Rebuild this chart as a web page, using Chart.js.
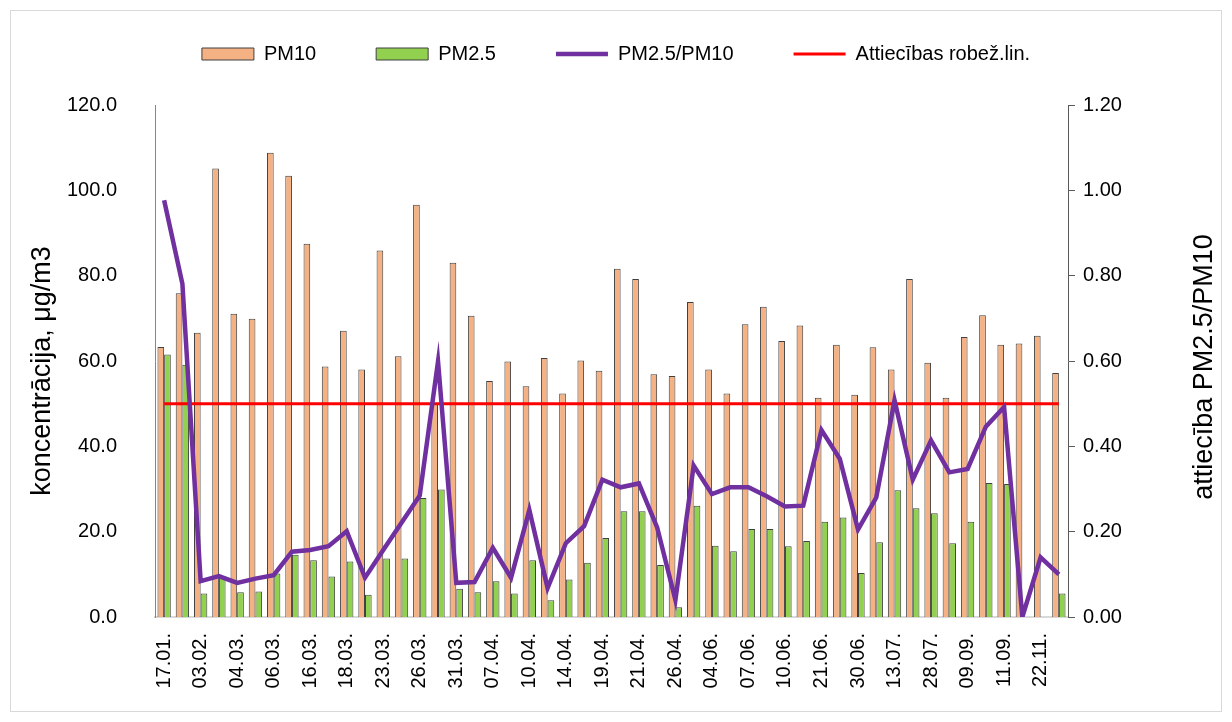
<!DOCTYPE html>
<html lang="lv">
<head>
    <meta charset="UTF-8">
    <title>PM10 un PM2.5 koncentrācijas</title>
    <script src="https://cdn.jsdelivr.net/npm/chart.js"></script>
    <style>
        body { margin: 0; background: #fff; }
        #wrap { position: absolute; left: 10px; top: 10px; width: 1210px; height: 700px; border: 1px solid #d9d9d9; }
    </style>
</head>
<body>
    <div id="wrap"><canvas id="pmChart" width="1210" height="700"></canvas></div>

    <script>
        // only every second date is printed on the axis
        const dates = ['17.01.', '', '03.02.', '', '04.03.', '', '06.03.', '', '16.03.', '',
                       '18.03.', '', '23.03.', '', '26.03.', '', '31.03.', '', '07.04.', '',
                       '10.04.', '', '14.04.', '', '19.04.', '', '21.04.', '', '26.04.', '',
                       '04.06.', '', '07.06.', '', '10.06.', '', '21.06.', '', '30.06.', '',
                       '13.07.', '', '28.07.', '', '09.09.', '', '11.09.', '', '22.11.', ''];

        const pm10 = [63.3, 75.9, 66.6, 105.1, 71.1, 69.9, 108.8, 103.4, 87.5, 58.7,
                      67.1, 58.0, 85.9, 61.1, 96.6, 50.0, 83.0, 70.6, 55.3, 59.9,
                      54.1, 60.7, 52.4, 60.1, 57.7, 81.6, 79.2, 56.9, 56.5, 73.8,
                      58.0, 52.4, 68.6, 72.7, 64.7, 68.3, 51.4, 63.8, 52.1, 63.2,
                      58.0, 79.2, 59.6, 51.4, 65.6, 70.7, 63.8, 64.1, 65.9, 57.2];

        const pm25 = [61.5, 59.1, 5.5, 9.6, 5.8, 6.0, 10.2, 14.6, 13.3, 9.5,
                      13.0, 5.2, 13.7, 13.7, 27.9, 29.9, 6.6, 5.8, 8.4, 5.5,
                      13.3, 3.9, 8.8, 12.7, 18.5, 24.8, 24.8, 12.2, 2.3, 26.1,
                      16.7, 15.4, 20.6, 20.6, 16.6, 17.8, 22.3, 23.3, 10.3, 17.5,
                      29.7, 25.5, 24.3, 17.3, 22.3, 31.4, 31.2, 0, null, 5.5];

        const ratio = [0.977, 0.781, 0.084, 0.096, 0.080, 0.090, 0.098, 0.153, 0.157, 0.166,
                       0.201, 0.092, 0.157, 0.221, 0.285, 0.599, 0.080, 0.082, 0.162, 0.092,
                       0.251, 0.068, 0.173, 0.213, 0.322, 0.304, 0.313, 0.210, 0.040, 0.355,
                       0.288, 0.304, 0.304, 0.283, 0.259, 0.261, 0.438, 0.371, 0.205, 0.280,
                       0.508, 0.322, 0.414, 0.339, 0.347, 0.446, 0.492, 0.000, 0.140, 0.100];

        const limitLine = [0.5, 0.5, 0.5, 0.5, 0.5, 0.5, 0.5, 0.5, 0.5, 0.5,
                           0.5, 0.5, 0.5, 0.5, 0.5, 0.5, 0.5, 0.5, 0.5, 0.5,
                           0.5, 0.5, 0.5, 0.5, 0.5, 0.5, 0.5, 0.5, 0.5, 0.5,
                           0.5, 0.5, 0.5, 0.5, 0.5, 0.5, 0.5, 0.5, 0.5, 0.5,
                           0.5, 0.5, 0.5, 0.5, 0.5, 0.5, 0.5, 0.5, 0.5, 0.5];

        const FONT = "'Liberation Sans', Arial, sans-serif";
        Chart.defaults.font.family = FONT;
        Chart.defaults.font.size = 20;
        Chart.defaults.color = '#000';

        // push the plot area down below the legend
        const legendGap = {
            id: 'legendGap',
            beforeInit(chart) {
                const fit = chart.legend.fit;
                chart.legend.fit = function () {
                    fit.bind(chart.legend)();
                    this.height += 31;
                };
            }
        };

        // both axis titles read bottom-to-top
        const axisTitles = {
            id: 'axisTitles',
            afterDraw(chart) {
                const { ctx } = chart;
                const put = (text, x, y) => {
                    ctx.save();
                    ctx.translate(x, y);
                    ctx.rotate(-Math.PI / 2);
                    ctx.font = '27px ' + FONT;
                    ctx.fillStyle = '#000';
                    ctx.textAlign = 'center';
                    ctx.textBaseline = 'middle';
                    ctx.fillText(text, 0, 0);
                    ctx.restore();
                };
                put('koncentrācija, μg/m3', 32, 360);
                put('attiecība PM2.5/PM10', chart.scales.y1.right - 16, 356);
            }
        };

        const ctx = document.getElementById('pmChart').getContext('2d');
        new Chart(ctx, {
            type: 'bar',
            data: {
                labels: dates,
                datasets: [
                    {
                        label: 'PM10',
                        data: pm10,
                        backgroundColor: '#F4B183',
                        borderColor: '#404040',
                        borderWidth: 1,
                        pointStyle: 'rect',
                        yAxisID: 'y',
                        order: 2
                    },
                    {
                        label: 'PM2.5',
                        data: pm25,
                        backgroundColor: '#92D050',
                        borderColor: '#404040',
                        borderWidth: 1,
                        pointStyle: 'rect',
                        yAxisID: 'y',
                        order: 3
                    },
                    {
                        type: 'line',
                        label: 'PM2.5/PM10',
                        data: ratio,
                        borderColor: '#7030A0',
                        backgroundColor: '#7030A0',
                        borderWidth: 4.5,
                        pointRadius: 0,
                        pointStyle: 'line',
                        tension: 0,
                        yAxisID: 'y1',
                        order: 0
                    },
                    {
                        type: 'line',
                        label: 'Attiecības robež.lin.',
                        data: limitLine,
                        borderColor: '#FF0000',
                        backgroundColor: '#FF0000',
                        borderWidth: 3,
                        pointRadius: 0,
                        pointStyle: 'line',
                        yAxisID: 'y1',
                        order: 1
                    }
                ]
            },
            options: {
                responsive: false,
                animation: false,
                layout: { padding: { top: -27, left: 0, right: 0, bottom: 0 } },
                datasets: {
                    bar: { categoryPercentage: 0.73, barPercentage: 1.0 }
                },
                scales: {
                    x: {
                        grid: { display: false },
                        border: { display: true, color: '#d9d9d9', width: 2 },
                        ticks: { autoSkip: false, minRotation: 90, maxRotation: 90, padding: 8 },
                        afterFit(scale) { scale.height = 94; }
                    },
                    y: {
                        position: 'left',
                        min: 0,
                        max: 120,
                        grid: { display: false },
                        border: { display: true, color: '#868686', width: 1 },
                        ticks: {
                            stepSize: 20,
                            padding: 30,
                            callback: v => v.toFixed(1)
                        },
                        afterFit(scale) { scale.width = 144; }
                    },
                    y1: {
                        position: 'right',
                        min: 0,
                        max: 1.2,
                        grid: { display: true, drawOnChartArea: false, drawTicks: true, tickLength: 7, color: '#595959' },
                        border: { display: true, color: '#595959', width: 1 },
                        ticks: {
                            stepSize: 0.2,
                            padding: 8,
                            callback: v => v.toFixed(2)
                        },
                        afterFit(scale) { scale.width = 153; }
                    }
                },
                plugins: {
                    legend: {
                        position: 'top',
                        labels: {
                            usePointStyle: true,
                            pointStyleWidth: 52,
                            boxHeight: 12,
                            padding: 60,
                            font: { size: 20 },
                            sort: (a, b) => a.datasetIndex - b.datasetIndex
                        }
                    },
                    tooltip: { enabled: false }
                }
            },
            plugins: [legendGap, axisTitles]
        });
    </script>
</body>
</html>
